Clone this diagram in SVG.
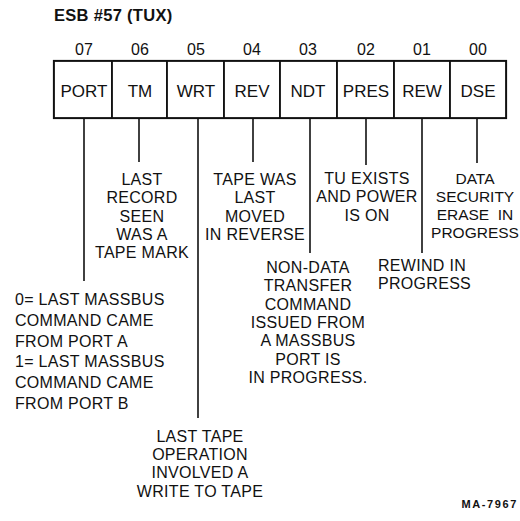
<svg xmlns="http://www.w3.org/2000/svg" width="520" height="521" viewBox="0 0 520 521">
<style>
text{font-family:"Liberation Sans",Arial,sans-serif;fill:#111;}
.t{font-size:16.5px;font-weight:bold;letter-spacing:0.3px;}
.n{font-size:16px;text-anchor:middle;}
.l{font-size:17px;text-anchor:middle;}
.d{font-size:16px;letter-spacing:0.3px;}
.c{text-anchor:middle;}
.cell{fill:#fff;stroke:#111;stroke-width:1.8;}
.wire{stroke:#111;stroke-width:1.6;fill:none;}
.ma{font-size:11px;font-weight:bold;letter-spacing:1.6px;text-anchor:end;}
</style>
<rect width="520" height="521" fill="#fff"/>
<g id="title"><text class="t" x="54" y="21">ESB #57 (TUX)</text></g>
<g id="register">
<rect x="54" y="61" width="452" height="57" fill="none" stroke="#111" stroke-width="2.2"/>
</g>
<g id="bit07"><rect class="cell" x="54" y="61" width="58" height="57"/><text class="n" x="84" y="55">07</text><text class="l" x="84" y="97">PORT</text>
<text class="d" x="15"><tspan x="15" y="305">0= LAST MASSBUS</tspan><tspan x="15" y="326">COMMAND CAME</tspan><tspan x="15" y="347">FROM PORT A</tspan><tspan x="15" y="367">1= LAST MASSBUS</tspan><tspan x="15" y="388">COMMAND CAME</tspan><tspan x="15" y="409">FROM PORT B</tspan></text></g>
<g id="bit06"><rect class="cell" x="112" y="61" width="55" height="57"/><text class="n" x="140" y="55">06</text><text class="l" x="140" y="97">TM</text>
<text class="d c"><tspan x="142" y="185">LAST</tspan><tspan x="142" y="203">RECORD</tspan><tspan x="142" y="222">SEEN</tspan><tspan x="142" y="240">WAS A</tspan><tspan x="142" y="258">TAPE MARK</tspan></text></g>
<g id="bit05"><rect class="cell" x="167" y="61" width="57" height="57"/><text class="n" x="196" y="55">05</text><text class="l" x="196" y="97">WRT</text>
<text class="d c"><tspan x="200" y="442">LAST TAPE</tspan><tspan x="200" y="460">OPERATION</tspan><tspan x="200" y="478">INVOLVED A</tspan><tspan x="200" y="497">WRITE TO TAPE</tspan></text></g>
<g id="bit04"><rect class="cell" x="224" y="61" width="56" height="57"/><text class="n" x="252" y="55">04</text><text class="l" x="252" y="97">REV</text>
<text class="d c"><tspan x="255" y="185">TAPE WAS</tspan><tspan x="255" y="203">LAST</tspan><tspan x="255" y="222">MOVED</tspan><tspan x="255" y="240">IN REVERSE</tspan></text></g>
<g id="bit03"><rect class="cell" x="280" y="61" width="57" height="57"/><text class="n" x="308" y="55">03</text><text class="l" x="308" y="97">NDT</text>
<text class="d c"><tspan x="308" y="273">NON-DATA</tspan><tspan x="308" y="291">TRANSFER</tspan><tspan x="308" y="310">COMMAND</tspan><tspan x="308" y="328">ISSUED FROM</tspan><tspan x="308" y="346">A MASSBUS</tspan><tspan x="308" y="365">PORT IS</tspan><tspan x="308" y="383">IN PROGRESS.</tspan></text></g>
<g id="bit02"><rect class="cell" x="337" y="61" width="57" height="57"/><text class="n" x="366" y="55">02</text><text class="l" x="366" y="97">PRES</text>
<text class="d c"><tspan x="367" y="184">TU EXISTS</tspan><tspan x="367" y="202">AND POWER</tspan><tspan x="367" y="221">IS ON</tspan></text></g>
<g id="bit01"><rect class="cell" x="394" y="61" width="56" height="57"/><text class="n" x="422" y="55">01</text><text class="l" x="422" y="97">REW</text>
<text class="d"><tspan x="378" y="271">REWIND IN</tspan><tspan x="378" y="289">PROGRESS</tspan></text></g>
<g id="bit00"><rect class="cell" x="450" y="61" width="56" height="57"/><text class="n" x="478" y="55">00</text><text class="l" x="478" y="97">DSE</text>
<text class="c" style="font-size:15.5px" xml:space="preserve"><tspan x="475" y="184">DATA</tspan><tspan x="475" y="202">SECURITY</tspan><tspan x="475" y="220">ERASE  IN</tspan><tspan x="475" y="238">PROGRESS</tspan></text></g>
<g id="connectors">
<line class="wire" x1="84" y1="118" x2="84" y2="281"/>
<line class="wire" x1="139" y1="118" x2="139" y2="162"/>
<line class="wire" x1="198" y1="118" x2="198" y2="418"/>
<line class="wire" x1="253" y1="118" x2="253" y2="162"/>
<line class="wire" x1="310" y1="118" x2="310" y2="253"/>
<line class="wire" x1="366" y1="118" x2="366" y2="165"/>
<line class="wire" x1="422" y1="118" x2="422" y2="253"/>
<line class="wire" x1="477" y1="118" x2="477" y2="163"/>
</g>
<g id="figure-id"><text class="ma" x="518" y="508">MA-7967</text></g>
</svg>
